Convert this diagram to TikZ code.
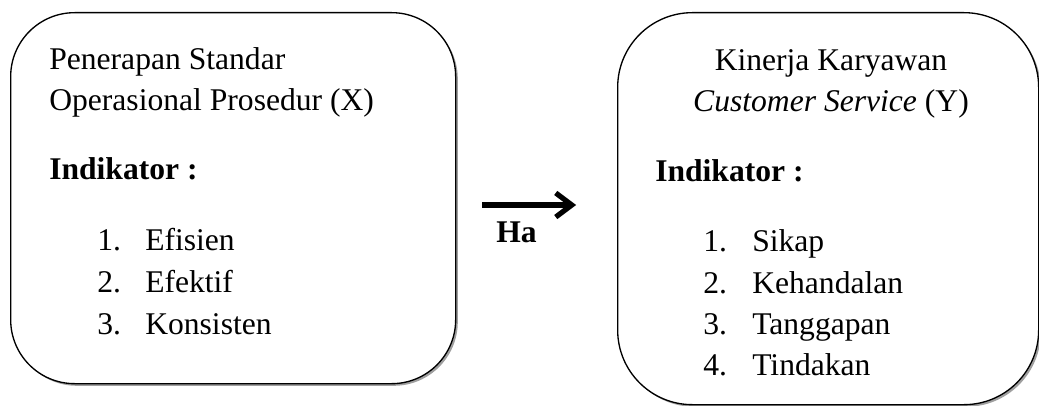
\documentclass[tikz,border=0pt]{standalone}
\usepackage{fontspec}
\setmainfont{Liberation Serif}
\usetikzlibrary{positioning}
\usetikzlibrary{shadows}
\usetikzlibrary{arrows.meta}

\newcommand{\besar}{\fontsize{23.7}{28}\selectfont}

\tikzset{
  varbox/.style={draw,fill=white,line width=1pt,rounded corners=#1,anchor=north west,inner sep=0pt,
    drop shadow={shadow xshift=1.6pt,shadow yshift=-1.6pt,fill=gray!75,opacity=1}},
  teks/.style={anchor=base west,inner sep=0pt,font=\besar},
  judul/.style={anchor=base,inner sep=0pt,font=\besar},
  tebal/.style={teks,font=\besar\bfseries},
  panah/.style={line width=3.8pt,-{Straight Barb[length=12pt,width=18pt]}},
}

\begin{document}
\begin{tikzpicture}[x=0.75pt,y=-0.75pt]
\useasboundingbox (0,0) rectangle (1039,406);

% kotak variabel
\node[varbox=48pt,minimum width=333.75pt,minimum height=278.25pt] (sop) at (10,12) {};
\node[varbox=56pt,minimum width=315.75pt,minimum height=294pt] (kinerja) at (617,12) {};

% variabel X
\node[teks] (x judul a) at (49,70) {Penerapan Standar};
\node[teks] (x judul b) at (49,111) {Operasional Prosedur (X)};
\node[tebal] (x ind) at (49,180) {Indikator :};
\node[teks] (x no1) at (97,250) {1.};
\node[teks] (x no2) at (97,292) {2.};
\node[teks] (x no3) at (97,334) {3.};
\node[teks] (x it1) at (145,250) {Efisien};
\node[teks] (x it2) at (145,292) {Efektif};
\node[teks] (x it3) at (145,334) {Konsisten};

% variabel Y
\node[judul] (y judul a) at (831,71) {Kinerja Karyawan};
\node[judul] (y judul b) at (831,112) {\textit{Customer Service} (Y)};
\node[tebal] (y ind) at (655,182) {Indikator :};
\node[teks] (y no1) at (703,252) {1.};
\node[teks] (y no2) at (703,293) {2.};
\node[teks] (y no3) at (703,334) {3.};
\node[teks] (y no4) at (703,375) {4.};
\node[teks] (y it1) at (752,252) {Sikap};
\node[teks] (y it2) at (752,293) {Kehandalan};
\node[teks] (y it3) at (752,334) {Tanggapan};
\node[teks] (y it4) at (752,375) {Tindakan};

% hipotesis
\coordinate (ha a) at (482,205);
\coordinate (ha b) at (576,205);
\draw[panah,gray!75,shift={(1.5pt,-1.8pt)}] (ha a) -- (ha b);
\draw[panah] (ha a) -- (ha b);
\node[tebal] (ha) at (496,243) {Ha};

\end{tikzpicture}
\end{document}
